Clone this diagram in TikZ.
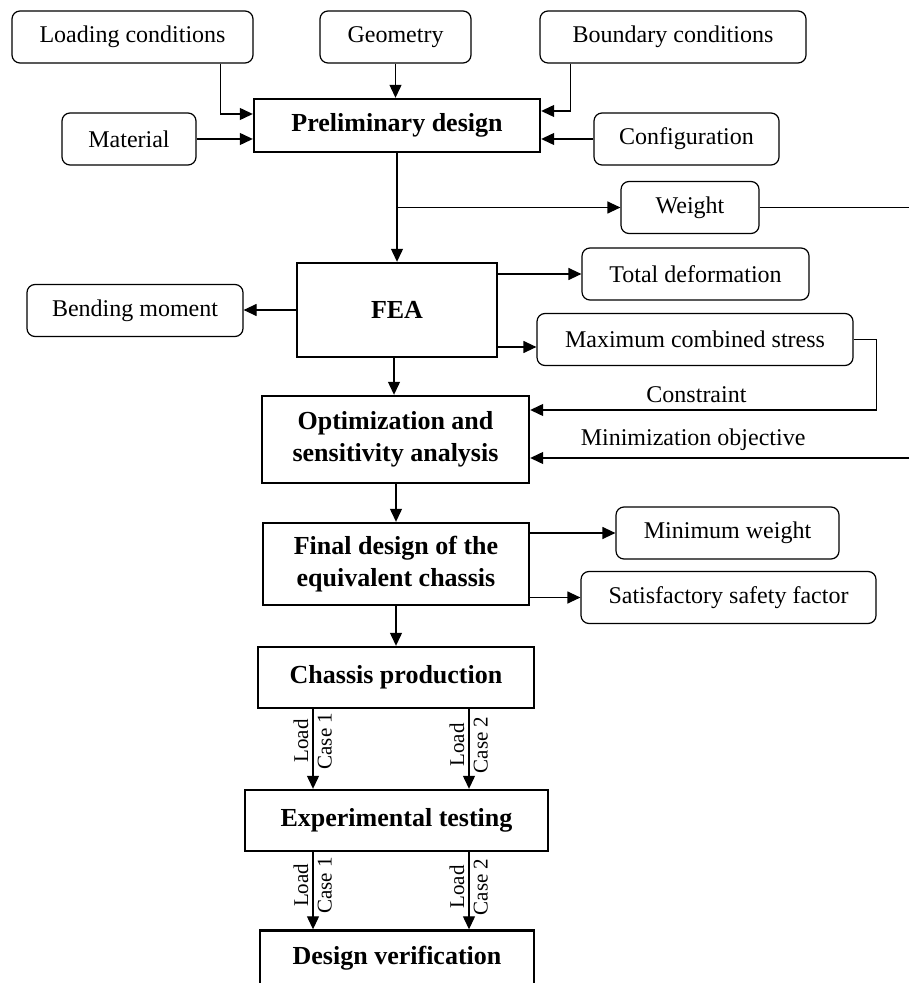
\documentclass[tikz,border=0pt]{standalone}
\usepackage{fontspec}
\setmainfont{Liberation Serif}
\usetikzlibrary{arrows.meta, positioning, calc}

\begin{document}
\begin{tikzpicture}[x=0.5pt, y=-0.5pt,
    inbox/.style={draw, rounded corners=4pt, line width=0.6pt, minimum height=26pt, inner sep=2pt, font=\fontsize{12}{14}\selectfont},
    stagebox/.style={draw, line width=1.2pt, inner sep=2pt, align=center, font=\fontsize{13}{16}\selectfont\bfseries},
    arr/.style={line width=0.6pt, -{Triangle[length=6.5pt, width=6pt]}},
    link/.style={line width=0.6pt},
    casetext/.style={rotate=90, inner sep=2pt, font=\fontsize{10.5}{12}\selectfont}]
    \useasboundingbox (0,0) rectangle (909,983);

    % inputs of the preliminary design
    \node[inbox, minimum width=120.5pt] (load) at (132.5,37) {Loading conditions};
    \node[inbox, minimum width=75.5pt] (geom) at (395.5,37) {Geometry};
    \node[inbox, minimum width=133pt] (bound) at (673,37) {Boundary conditions};
    \node[inbox, minimum width=67pt] (mat) at (129,139) {Material};
    \node[inbox, minimum width=92.5pt] (config) at (686.5,139) {Configuration};

    % main stages
    \node[stagebox, minimum width=143pt, minimum height=26.5pt] (prelim) at (397,125.5) {Preliminary design};
    \node[stagebox, minimum width=100pt, minimum height=47pt] (fea) at (397,310) {FEA};
    \node[stagebox, minimum width=133.5pt, minimum height=43.5pt] (optim) at (395.5,439.5) {Optimization and\\sensitivity analysis};
    \node[stagebox, minimum width=133pt, minimum height=41pt] (final) at (396,564) {Final design of the\\equivalent chassis};
    \node[stagebox, minimum width=138pt, minimum height=30.5pt] (chassis) at (396,677.5) {Chassis production};
    \node[stagebox, minimum width=151.5pt, minimum height=30.5pt] (exper) at (396.5,820.5) {Experimental testing};
    \node[stagebox, minimum width=137pt, minimum height=27.5pt] (verif) at (397,958) {Design verification};

    % results
    \node[inbox, minimum width=69pt] (weight) at (690,207.5) {Weight};
    \node[inbox, minimum width=108pt] (bend) at (135,310.5) {Bending moment};
    \node[inbox, minimum width=113.5pt] (totdef) at (695.5,274) {Total deformation};
    \node[inbox, minimum width=158pt] (stress) at (695,339.5) {Maximum combined stress};
    \node[inbox, minimum width=111.5pt] (minw) at (727.5,533) {Minimum weight};
    \node[inbox, minimum width=147.5pt] (safety) at (728.5,597.5) {Satisfactory safety factor};

    \coordinate (wR) at (909,207.5);
    \coordinate (mR) at (909,458);

    % into the preliminary design
    \draw[arr] ($(load.south east)+(-33,0)$) |- ($(prelim.west)+(0,-11.5)$);
    \draw[arr] (geom.south) -- (geom.south |- prelim.north);
    \draw[arr] ($(bound.south west)+(31,0)$) |- ($(prelim.east)+(0,-14.5)$);
    \draw[arr] (mat.east) -- (prelim.west |- mat.east);
    \draw[arr] (config.west) -- (prelim.east |- config.west);

    % down the main column
    \draw[arr] (prelim.south) -- (fea.north);
    \coordinate (br) at (prelim.south |- weight.west);
    \draw[arr] (br) -- (weight.west);
    \draw[link] (weight.east) -- (wR);
    \draw[arr] (fea.west) -- (bend.east |- fea.west);
    \draw[arr] (fea.east |- totdef.west) -- (totdef.west);
    \draw[arr] (fea.east |- 0,347) -- (stress.west |- 0,347);
    \draw[arr] ([xshift=-1.5pt]fea.south) -- ([xshift=-1.5pt]fea.south |- optim.north);
    \draw[arr] (stress.east) -- ++(23,0) |- ($(optim.east)+(0,-29.5)$)
        node[pos=0.76, above, font=\fontsize{12}{14}\selectfont] {Constraint};
    \draw[arr] (mR) -- (optim.east |- mR)
        node[pos=0.57, above, font=\fontsize{12}{14}\selectfont] {Minimization objective};
    \draw[arr] (final.north |- optim.south) -- (final.north);
    \draw[arr] (final.east |- minw.west) -- (minw.west);
    \draw[arr] (final.east |- safety.west) -- (safety.west);
    \draw[arr] (final.south) -- (chassis.north);

    % load cases
    \draw[arr] ($(chassis.south)+(-83,0)$) coordinate (c1) -- (c1 |- exper.north)
        node[casetext, pos=0.4, above] {Load} node[casetext, pos=0.4, below] {Case 1};
    \draw[arr] ($(chassis.south)+(73,0)$) coordinate (c2) -- (c2 |- exper.north)
        node[casetext, pos=0.45, above] {Load} node[casetext, pos=0.45, below] {Case 2};
    \draw[arr] ($(exper.south)+(-83.5,0)$) coordinate (e1) -- (e1 |- verif.north)
        node[casetext, pos=0.43, above] {Load} node[casetext, pos=0.43, below] {Case 1};
    \draw[arr] ($(exper.south)+(72.5,0)$) coordinate (e2) -- (e2 |- verif.north)
        node[casetext, pos=0.45, above] {Load} node[casetext, pos=0.45, below] {Case 2};
\end{tikzpicture}
\end{document}
